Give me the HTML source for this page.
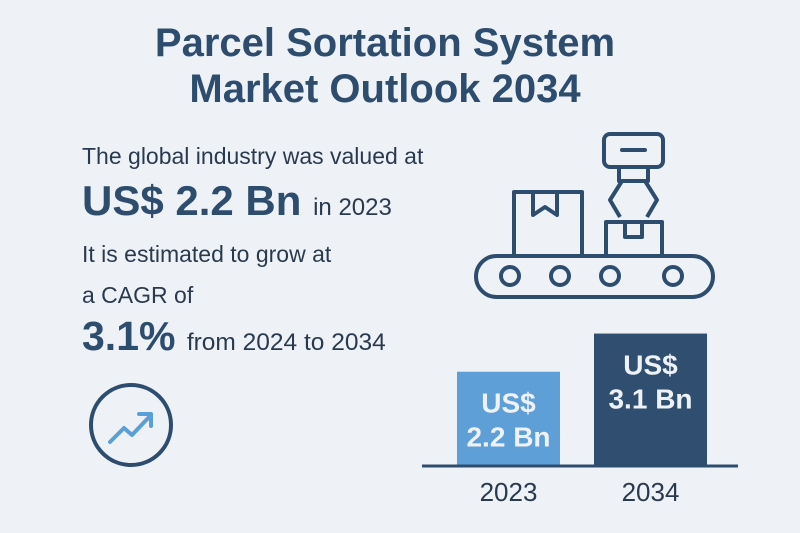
<!DOCTYPE html>
<html><head><meta charset="utf-8"><style>
html,body{margin:0;padding:0;}
body{width:800px;height:533px;background:#eef2f7;position:relative;overflow:hidden;font-family:"Liberation Sans",sans-serif;color:#2d4a6a;}
.t{position:absolute;white-space:nowrap;}
</style></head><body>
<div class="t" style="left:0;width:770px;top:20px;text-align:center;font-size:40px;font-weight:bold;line-height:46px;color:#2e4d6e;">Parcel Sortation System<br>Market Outlook 2034</div>
<div class="t" style="left:82px;top:143px;font-size:23px;color:#2a3a4e;">The global industry was valued at</div>
<div class="t" style="left:82px;top:177px;font-size:42px;font-weight:bold;color:#2e4d6e;">US$ 2.2 Bn <span style="font-size:24px;font-weight:normal;color:#2a3a4e;">in 2023</span></div>
<div class="t" style="left:82px;top:241px;font-size:23px;color:#2a3a4e;">It is estimated to grow at</div>
<div class="t" style="left:82px;top:282px;font-size:23px;color:#2a3a4e;">a CAGR of</div>
<div class="t" style="left:82px;top:313px;font-size:41px;font-weight:bold;color:#2e4d6e;">3.1% <span style="font-size:24.5px;font-weight:normal;color:#2a3a4e;">from 2024 to 2034</span></div>
<svg width="800" height="533" style="position:absolute;left:0;top:0">
<g>
<circle cx="131" cy="425" r="40" fill="none" stroke="#2e4d6e" stroke-width="4"/>
<polyline points="110,442 124,428 132,435 151,415" fill="none" stroke="#5b9fd8" stroke-width="4" stroke-linecap="round" stroke-linejoin="round"/>
<polyline points="139,414 151,414 151,426" fill="none" stroke="#5b9fd8" stroke-width="4" stroke-linecap="round" stroke-linejoin="round"/>
</g>
<g fill="none" stroke="#2e4d6e" stroke-width="4" stroke-linejoin="round">
<rect x="476" y="256" width="237" height="41" rx="20.5"/>
<circle cx="510" cy="276" r="9"/><circle cx="560" cy="276" r="9"/><circle cx="610" cy="276" r="9"/><circle cx="673" cy="276" r="9"/>
<rect x="514" y="192" width="68" height="64"/>
<polyline points="533,192 533,215 545,207 557,215 557,192"/>
<rect x="606" y="222" width="56" height="34"/>
<rect x="625" y="222" width="17" height="15"/>
<rect x="604" y="134" width="59" height="33" rx="6"/>
<line x1="622" y1="150" x2="645" y2="150" stroke-linecap="round"/>
<rect x="619" y="167" width="29" height="14"/>
<polyline points="622,181 610,200 620,217"/>
<polyline points="645,181 657,200 647,217"/>
</g>
<g id="chart"></g>
</svg>
<script>
const categories = ["2023", "2034"];
const values = [2.2, 3.1];
const valueLabels = ["2.2 Bn", "3.1 Bn"];
const colors = ["#5d9fd6", "#2f4e70"];
const baseY = 465, scale = 42.4;
const xs = [457, 594], ws = [103, 113];
function yOf(v){ return baseY - v*scale; }
const ns = "http://www.w3.org/2000/svg";
const g = document.getElementById('chart');
categories.forEach((c,i)=>{
  const r = document.createElementNS(ns,'rect');
  
  
  r.setAttribute('x', xs[i]); r.setAttribute('width', ws[i]);
  r.setAttribute('y', yOf(values[i])); r.setAttribute('height', baseY - yOf(values[i]));
  r.setAttribute('fill', colors[i]);
  g.appendChild(r);
  const cx = xs[i] + ws[i]/2, top = yOf(values[i]);
  const t1 = document.createElementNS(ns,'text');
  
  
  t1.setAttribute('x', cx); t1.setAttribute('text-anchor','middle');
  t1.setAttribute('font-family','Liberation Sans, sans-serif');
  t1.setAttribute('font-weight','bold'); t1.setAttribute('font-size','28');
  t1.setAttribute('fill', '#eef2f7');
  const s1 = document.createElementNS(ns,'tspan'); s1.setAttribute('x',cx); s1.setAttribute('y', top+41); s1.textContent='US$';
  const s2 = document.createElementNS(ns,'tspan'); s2.setAttribute('x',cx); s2.setAttribute('y', top+75); s2.textContent=valueLabels[i];
  t1.appendChild(s1); t1.appendChild(s2); g.appendChild(t1);
  const t2 = document.createElementNS(ns,'text');
  
  
  t2.setAttribute('x', cx); t2.setAttribute('y', 501); t2.setAttribute('text-anchor','middle');
  t2.setAttribute('font-family','Liberation Sans, sans-serif'); t2.setAttribute('font-size','26');
  t2.setAttribute('fill','#2a3a4e'); t2.textContent = c;
  g.appendChild(t2);
});
const base = document.createElementNS(ns,'line');


base.setAttribute('x1',422); base.setAttribute('x2',738); base.setAttribute('y1',baseY+1); base.setAttribute('y2',baseY+1);
base.setAttribute('stroke','#2e4d6e'); base.setAttribute('stroke-width',3);
g.appendChild(base);
</script>
</body></html>
